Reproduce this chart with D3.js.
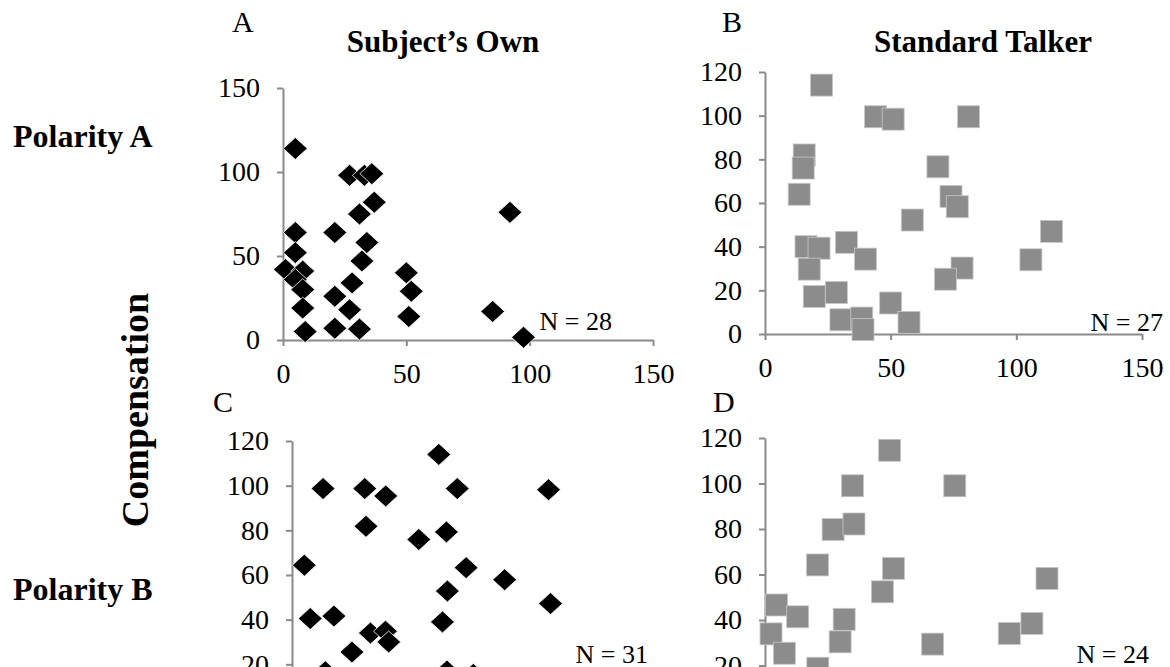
<!DOCTYPE html>
<html>
<head>
<meta charset="utf-8">
<script src="https://cdn.jsdelivr.net/npm/d3@7"></script>
<style>
  body { margin: 0; background: #fff; }
  svg { display: block; }
</style>
</head>
<body>
<svg></svg>
<script>
// tick labels
let xTicks = [0, 50, 100, 150]
let yTicksA = [0, 50, 100, 150]
let yTicks = [0, 20, 40, 60, 80, 100, 120]

// [x, y] pairs
// A: Subject's Own, Polarity A
let ownA = [[5,114],[27,98],[33,98],[36,99],[37,82],[31,75],[92,76],[5,64],[21,64],[34,58],
  [5,52],[32,47],[1,42],[8,41],[50,40],[5,36],[8,30],[28,34],[52,29],[21,26],
  [8,19],[27,18],[51,14],[85,17],[9,5],[21,7],[31,6.5],[97.5,1.6]]
// B: Standard Talker, Polarity A
let stdA = [[22.5,114],[44,99.5],[51,98.4],[81,99.5],[15.6,82],[15.2,76],[13.6,64],[68.8,76.6],
  [74,63],[76.5,58.3],[58.6,52.2],[114,47],[16.3,40],[21.5,39.3],[32.4,42],[40,34.3],
  [17.6,29.7],[105.8,34],[78.4,30.2],[71.8,25.1],[19.6,17.2],[28.4,19],[50,14.2],
  [30.2,6.5],[38.5,7.3],[39,2],[57.3,5.3]]
// C: Subject's Own, Polarity B (only the part that is in view)
let ownB = [[59.5,114],[12.6,98.7],[29.5,98.7],[38,95.4],[67,98.7],[104,98.2],[30,81.8],
  [62.6,79.3],[51.4,75.9],[5,64.4],[70.6,63.3],[86.2,57.9],[63,52.8],[104.8,47.2],
  [7.4,40.5],[17,41.6],[61,39],[31.8,34],[37.9,34.8],[39.2,30],[24.3,25.5],
  [13.5,16.7],[62.8,17],[73.5,15.5]]
// D: Standard Talker, Polarity B (only the part that is in view)
let stdB = [[49.6,114.6],[34.8,99],[75.5,99],[27.1,79.8],[35.4,82.2],[20.9,64.2],[51.1,62.7],
  [46.7,52.4],[112.2,58.3],[4.6,46.6],[13,41.4],[31.5,40.3],[2.4,33.9],[106.2,38.5],
  [97.2,34.1],[29.9,30.4],[66.7,29.4],[7.7,25.4],[21,18.8]]

let width = 1170
let height = 667
let axisColor = '#8a8a8a'
let serif = '"Liberation Serif", "DejaVu Serif", "Times New Roman", serif'

let svg = d3.select('svg')
  .attr('width', width)
  .attr('height', height)

let panels = [
  { data: ownA, mark: 'diamond', yTicks: yTicksA, yMax: 150, xr: [283, 653], yr: [340, 88],
    letter: 'A', lx: 232, ly: 32, n: 'N = 28', nx: 612, ny: 330, showX: true },
  { data: stdA, mark: 'square', yTicks: yTicks, yMax: 120, xr: [765, 1142], yr: [334, 72],
    letter: 'B', lx: 722, ly: 32, n: 'N = 27', nx: 1163, ny: 331, showX: true },
  { data: ownB, mark: 'diamond', yTicks: yTicks, yMax: 120, xr: [292, 662], yr: [709, 441],
    letter: 'C', lx: 213, ly: 412, n: 'N = 31', nx: 648, ny: 663, showX: false },
  { data: stdB, mark: 'square', yTicks: yTicks, yMax: 120, xr: [765, 1142], yr: [711, 438],
    letter: 'D', lx: 713, ly: 412, n: 'N = 24', nx: 1149, ny: 663, showX: false }
]

drawPanel = (p) => {
  let x = d3.scaleLinear().domain([0, 150]).range(p.xr)
  let y = d3.scaleLinear().domain([0, p.yMax]).range(p.yr)

  // lower panels are cut by the bottom edge: keep only ticks that are in view
  let yVals = p.yTicks.filter(v => y(v) < height)
  let yAxis = d3.axisLeft(y).tickValues(yVals).tickSize(6).tickSizeOuter(0).tickPadding(17)
  let xAxis = d3.axisBottom(x).tickValues(p.showX ? xTicks : []).tickSize(6).tickSizeOuter(0).tickPadding(17)

  let gx = svg.append('g')
    .attr('transform', 'translate(0,' + p.yr[0] + ')')
    .call(xAxis)
  let gy = svg.append('g')
    .attr('transform', 'translate(' + p.xr[0] + ',0)')
    .call(yAxis)

  ;[gx, gy].forEach(g => {
    g.attr('font-family', serif).attr('font-size', 28)
    g.selectAll('path.domain').attr('stroke', axisColor).attr('stroke-width', 2)
    g.selectAll('.tick line').attr('stroke', axisColor).attr('stroke-width', 2)
    g.selectAll('.tick text').attr('fill', '#000')
  })

  let marks = svg.append('g')
  if (p.mark === 'diamond') {
    marks.selectAll('path')
      .data(p.data)
      .enter()
      .append('path')
      .attr('d', d => {
        let cx = x(d[0]), cy = y(d[1])
        return 'M' + cx + ',' + (cy - 11) + 'L' + (cx + 12) + ',' + cy + 'L' + cx + ',' + (cy + 11) + 'L' + (cx - 12) + ',' + cy + 'Z'
      })
      .attr('fill', '#000')
      .attr('stroke', '#fff')
      .attr('stroke-width', 0.8)
  } else {
    marks.selectAll('rect')
      .data(p.data)
      .enter()
      .append('rect')
      .attr('x', d => x(d[0]) - 11)
      .attr('y', d => y(d[1]) - 11)
      .attr('width', 22)
      .attr('height', 22)
      .attr('fill', '#8c8c8c')
      .attr('stroke', '#c8c8c8')
      .attr('stroke-width', 0.8)
  }

  svg.append('text')
    .attr('x', p.lx)
    .attr('y', p.ly)
    .attr('font-family', serif)
    .attr('font-size', 30)
    .text(p.letter)

  svg.append('text')
    .attr('x', p.nx)
    .attr('y', p.ny)
    .attr('text-anchor', 'end')
    .attr('font-family', serif)
    .attr('font-size', 26)
    .text(p.n)
}

panels.forEach(drawPanel)

// column and row titles
let bold = (x, y, size, label, anchor, transform) => {
  let t = svg.append('text')
    .attr('font-family', serif)
    .attr('font-size', size)
    .attr('font-weight', 'bold')
    .attr('text-anchor', anchor)
    .text(label)
  if (transform) t.attr('transform', transform)
  else t.attr('x', x).attr('y', y)
}

bold(443, 52, 31, 'Subject\u2019s Own', 'middle')
bold(983, 52, 31, 'Standard Talker', 'middle')
bold(13, 147, 32, 'Polarity A', 'start')
bold(13, 600, 32, 'Polarity B', 'start')
bold(0, 0, 38, 'Compensation', 'middle', 'translate(148,410) rotate(-90)')
</script>
</body>
</html>
